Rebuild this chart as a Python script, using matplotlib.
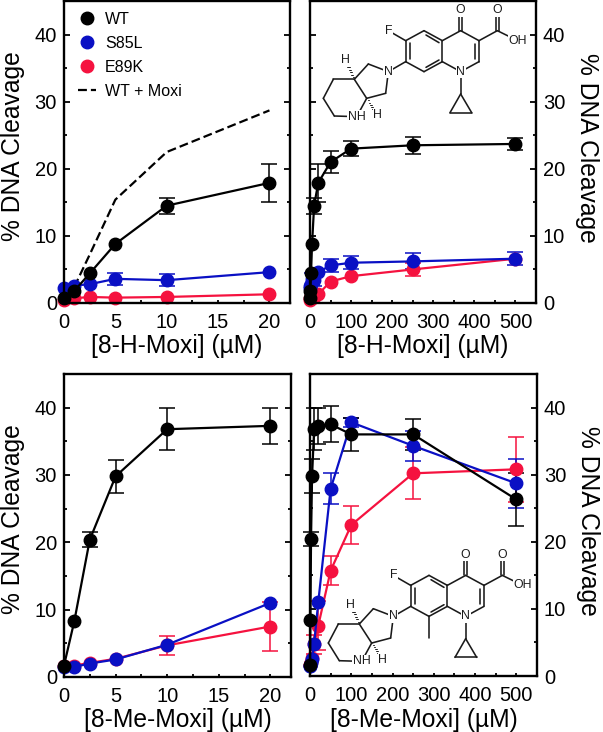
import matplotlib
matplotlib.use('Agg')
import matplotlib.pyplot as plt
from matplotlib.lines import Line2D
from matplotlib.ticker import MultipleLocator

plt.rcParams['font.family'] = ['Liberation Sans', 'DejaVu Sans']

W, H = 603, 732
BLACK = '#000000'
BLUE = '#0a10c4'
RED = '#f5123f'
NA = float('nan')  # error bar hidden behind the marker

conc = [0, 1, 2.5, 5, 10, 20, 50, 100, 250, 500]
moxi_conc = [1, 2.5, 5, 10, 20]
moxi_wt = [2.4, 7.2, 15.4, 22.5, 28.7]

h_wt = [0.8, 1.8, 4.4, 8.8, 14.5, 17.9, 21.0, 23.0, 23.5, 23.7]
h_wt_err = [NA, NA, NA, NA, 1.2, 2.8, 1.7, 1.1, 1.3, 0.9]
h_s85l = [2.2, 2.6, 2.8, 3.6, 3.4, 4.6, 5.6, 6.0, 6.2, 6.6]
h_s85l_err = [NA, NA, NA, 0.9, 0.9, NA, 1.0, 1.0, 1.2, 1.0]
h_e89k = [0.5, 0.7, 0.9, 0.8, 0.9, 1.3, 3.2, 4.0, 5.0, 6.6]
h_e89k_err = [NA, NA, NA, NA, NA, NA, NA, NA, 1.0, NA]

me_wt = [1.7, 8.3, 20.4, 29.8, 36.8, 37.3, 37.5, 36.0, 36.0, 26.3]
me_wt_err = [NA, NA, 1.1, 2.5, 3.1, 2.7, 2.7, 2.4, 2.3, 4.0]
me_s85l = [1.5, 1.5, 2.0, 2.6, 4.8, 11.0, 27.9, 37.8, 34.3, 28.7]
me_s85l_err = [NA, NA, NA, NA, NA, NA, 2.3, 0.7, 2.2, 3.7]
me_e89k = [1.7, 1.7, 2.1, 2.7, 4.7, 7.5, 15.7, 22.5, 30.2, 30.8]
me_e89k_err = [NA, NA, NA, NA, 1.4, 3.7, 2.2, 2.8, 3.9, 4.8]

y_ticks = [0, 10, 20, 30, 40]
y_label = '% DNA Cleavage'

fig = plt.figure(figsize=(W / 100, H / 100), dpi=100)


def make_axes(left, top, right, bottom):
    return fig.add_axes([left / W, 1 - bottom / H, (right - left) / W, (bottom - top) / H])


def series(ax, x, y, err, color):
    line, caps, bars = ax.errorbar(x, y, yerr=err, color=color, lw=1.6, elinewidth=1.1,
                                   marker='o', ms=9, mec=color, capsize=5.5, capthick=1.1)
    line.set_clip_on(False)
    for c in caps:
        c.set_clip_on(False)
    for b in bars:
        b.set_clip_on(False)


def panel(ax, n, wt, wt_err, s85l, s85l_err, e89k, e89k_err, xlabel, xmax, xmajor, right_side, labelpad):
    series(ax, conc[:n], e89k[:n], e89k_err[:n], RED)
    series(ax, conc[:n], s85l[:n], s85l_err[:n], BLUE)
    series(ax, conc[:n], wt[:n], wt_err[:n], BLACK)
    ax.set_xlim(0, xmax)
    ax.set_ylim(0, 45)
    ax.set_yticks(y_ticks)
    ax.xaxis.set_major_locator(MultipleLocator(xmajor))
    ax.xaxis.set_minor_locator(MultipleLocator(xmajor / 2))
    ax.yaxis.set_minor_locator(MultipleLocator(5))
    ax.tick_params(axis='y', which='major', direction='in', length=4, width=1.3, labelsize=14.5, pad=5)
    ax.tick_params(axis='y', which='minor', direction='in', length=2.5, width=1.3)
    ax.tick_params(axis='x', which='both', direction='in', length=2.5, width=1.3, labelsize=14.5, pad=7)
    ax.set_xlabel(xlabel, fontsize=17.7, labelpad=labelpad)
    if right_side:
        ax.yaxis.tick_right()
        ax.yaxis.set_label_position('right')
        ax.set_ylabel(y_label, fontsize=17.7, rotation=270, labelpad=24, y=0.515)
    else:
        ax.set_ylabel(y_label, fontsize=17.7, labelpad=7, y=0.52)
    ax.tick_params(axis='y', which='both', left=True, right=True)
    for s in ax.spines.values():
        s.set_linewidth(1.7)


ax1 = make_axes(64, 1, 290, 303)
ax2 = make_axes(310, 1, 536, 303)
ax3 = make_axes(64, 374, 291, 677)
ax4 = make_axes(310, 374, 537, 676)

ax1.plot(moxi_conc, moxi_wt, color='black', ls=(0, (4, 1.8)), lw=1.6)
panel(ax1, 6, h_wt, h_wt_err, h_s85l, h_s85l_err, h_e89k, h_e89k_err, '[8-H-Moxi] (µM)', 22, 5, False, 2)
panel(ax2, 10, h_wt, h_wt_err, h_s85l, h_s85l_err, h_e89k, h_e89k_err, '[8-H-Moxi] (µM)', 550, 100, True, 2)
panel(ax3, 6, me_wt, me_wt_err, me_s85l, me_s85l_err, me_e89k, me_e89k_err, '[8-Me-Moxi] (µM)', 22, 5, False, 2)
panel(ax4, 10, me_wt, me_wt_err, me_s85l, me_s85l_err, me_e89k, me_e89k_err, '[8-Me-Moxi] (µM)', 550, 100, True, 2)

handles = [
    Line2D([], [], color=BLACK, marker='o', ms=9, ls='none'),
    Line2D([], [], color=BLUE, marker='o', ms=9, ls='none'),
    Line2D([], [], color=RED, marker='o', ms=9, ls='none'),
    Line2D([], [], color='black', ls=(0, (4, 1.8)), lw=1.6),
]
ax1.legend(handles, ['WT', 'S85L', 'E89K', 'WT + Moxi'], loc='upper left', frameon=False, fontsize=11.5,
           labelspacing=0.56, handlelength=1.15, handletextpad=0.55, borderaxespad=0, bbox_to_anchor=(0.034, 0.985))

# molecule sketch, drawn in image pixels
over = fig.add_axes([0, 0, 1, 1], zorder=5)
over.set_xlim(0, W)
over.set_ylim(H, 0)
over.axis('off')

atoms = {
    'F': (220, 92), 'C6': (272, 122), 'C5': (327, 92), 'C4a': (382, 122), 'C4': (437, 92), 'O4': (437, 30),
    'C3': (492, 122), 'CA': (547, 92), 'O': (547, 30), 'OH': (608, 122), 'C2': (492, 185), 'N1': (437, 215),
    'C8a': (382, 185), 'C8': (327, 215), 'C7': (272, 185), 'N': (220, 215), 'P1': (160, 192), 'C3a': (118, 238),
    'C7a': (155, 295), 'P2': (212, 280), 'R1': (55, 238), 'R2': (25, 295), 'R3': (58, 348), 'NH': (125, 350),
    'CP': (437, 282), 'CP1': (405, 338), 'CP2': (470, 338), 'Me': (327, 280),
    'H1': (92, 180), 'H2': (188, 345),
}
bonds = [('F', 'C6'), ('C6', 'C5'), ('C5', 'C4a'), ('C4a', 'C4'), ('C4', 'C3'), ('C3', 'CA'), ('CA', 'OH'),
         ('C3', 'C2'), ('C2', 'N1'), ('N1', 'C8a'), ('C8a', 'C4a'), ('C8a', 'C8'), ('C8', 'C7'), ('C7', 'C6'),
         ('C7', 'N'), ('N', 'P1'), ('P1', 'C3a'), ('C3a', 'C7a'), ('C7a', 'P2'), ('P2', 'N'), ('C3a', 'R1'),
         ('R1', 'R2'), ('R2', 'R3'), ('R3', 'NH'), ('NH', 'C7a'), ('N1', 'CP'), ('CP', 'CP1'), ('CP1', 'CP2'),
         ('CP2', 'CP')]
labels = {'F': 'F', 'O4': 'O', 'O': 'O', 'OH': 'OH', 'N1': 'N', 'N': 'N', 'NH': 'NH', 'H1': 'H', 'H2': 'H'}


def molecule(ox, oy, methyl):
    def pt(name):
        x, y = atoms[name]
        return ox + x / 3, oy + y / 3

    def bond(p, q, lw=1.15):
        over.plot([p[0], q[0]], [p[1], q[1]], color='#1a1a1a', lw=lw, solid_capstyle='round')

    for a, b in bonds:
        bond(pt(a), pt(b))
    # double bonds
    for a, b in [('C4', 'O4'), ('CA', 'O')]:
        p, q = pt(a), pt(b)
        bond((p[0] - 1.2, p[1]), (q[0] - 1.2, q[1]))
        bond((p[0] + 1.2, p[1]), (q[0] + 1.2, q[1]))
    bond((ox + 333 / 3, oy + 105 / 3), (ox + 372 / 3, oy + 128 / 3))
    bond((ox + 372 / 3, oy + 180 / 3), (ox + 333 / 3, oy + 202 / 3))
    bond((ox + 286 / 3, oy + 130 / 3), (ox + 286 / 3, oy + 177 / 3))
    bond((ox + 480 / 3, oy + 132 / 3), (ox + 480 / 3, oy + 177 / 3))
    if methyl:
        bond(pt('C8'), pt('Me'))
    # hashed wedges
    for a, b in [('C3a', 'H1'), ('C7a', 'H2')]:
        p, q = pt(a), pt(b)
        for k in range(1, 7):
            f = k / 8
            cx, cy = p[0] + (q[0] - p[0]) * f, p[1] + (q[1] - p[1]) * f
            bond((cx - 0.3 - f * 1.8, cy), (cx + 0.3 + f * 1.8, cy), lw=0.7)
    for name, s in labels.items():
        x, y = pt(name)
        over.text(x, y, s, fontsize=8.8, ha='center', va='center', color='#1a1a1a',
                  bbox=dict(fc='white', ec='none', pad=0.4))


molecule(315, 0, False)
molecule(320, 544.7, True)

fig.savefig('out.png', dpi=100)
